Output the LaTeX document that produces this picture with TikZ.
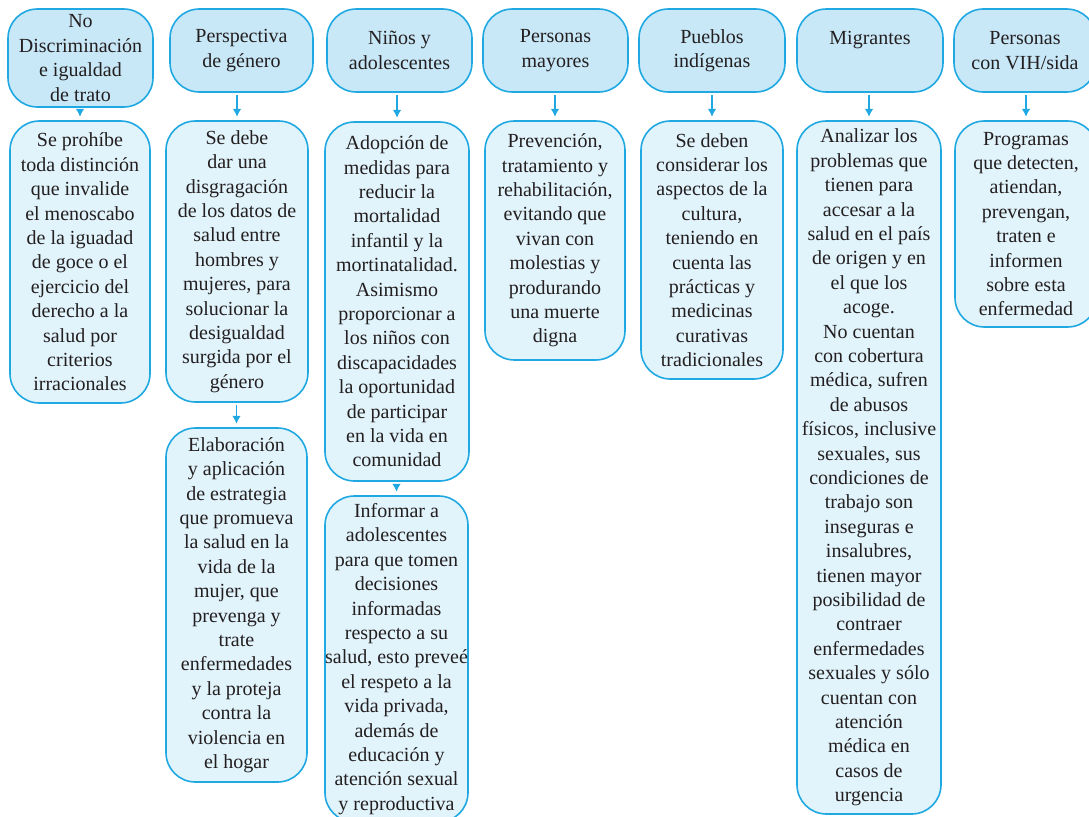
\documentclass[tikz,border=0pt]{standalone}
\usepackage{fontspec}
\setmainfont{Liberation Serif}
\usetikzlibrary{arrows.meta}
\definecolor{bordeazul}{HTML}{1FA8E1}
\definecolor{fondohead}{HTML}{C8E8F8}
\definecolor{fondobox}{HTML}{E1F3FB}
\definecolor{texto}{HTML}{231F20}
\begin{document}
\begin{tikzpicture}[x=0.75pt, y=-0.75pt,
    base/.style={draw=bordeazul, line width=1.2pt, rounded corners=22pt, align=center, text=texto, inner xsep=0pt,
        font=\fontsize{15}{18.3}\selectfont},
    head/.style={base, fill=fondohead},
    caja/.style={base, fill=fondobox},
    arr/.style={bordeazul, line width=1.2pt, -{Latex[length=6pt,width=6.5pt]}, shorten <=2pt, shorten >=2.5pt}]
    \useasboundingbox (0,0) rectangle (1089,817);
    \clip (0,0) rectangle (1089,817);
    \node[head, minimum width=108.75pt, minimum height=73.5pt] (h1) at (80.5,58) {No\\Discriminación\\e igualdad\\de trato};
    \node[head, minimum width=107.25pt, minimum height=62.25pt] (h2) at (241.5,50.5) {Perspectiva\\de género};
    \node[head, minimum width=108.75pt, minimum height=62.25pt] (h3) at (399.5,50.5) {Niños y\\adolescentes};
    \node[head, minimum width=108.75pt, minimum height=62.25pt] (h4) at (555.5,50.5) {Personas\\mayores};
    \node[head, minimum width=109.5pt, minimum height=62.25pt] (h5) at (712,50.5) {Pueblos\\indígenas};
    \node[head, minimum width=109.5pt, minimum height=62.25pt] (h6) at (870,50.5) {Migrantes\\~};
    \node[head, minimum width=106.5pt, minimum height=62.25pt] (h7) at (1025,50.5) {Personas\\con VIH/sida};

    \node[caja, minimum width=105pt, minimum height=211.5pt] (c1) at (80,262) {Se prohíbe\\toda distinción\\que invalide\\el menoscabo\\de la iguadad\\de goce o el\\ejercicio del\\derecho a la\\salud por\\criterios\\irracionales};
    \node[caja, minimum width=106.5pt, minimum height=210.75pt] (c2a) at (237,261.5) {Se debe\\dar una\\disgragación\\de los datos de\\salud entre\\hombres y\\mujeres, para\\solucionar la\\desigualdad\\surgida por el\\género};
    \node[caja, minimum width=105.75pt, minimum height=265.5pt] (c2b) at (236.5,605) {Elaboración\\y aplicación\\de estrategia\\que promueva\\la salud en la\\vida de la\\mujer, que\\prevenga y\\trate\\enfermedades\\y la proteja\\contra la\\violencia en\\el hogar};
    \node[caja, minimum width=108pt, minimum height=269.25pt] (c3a) at (397,301.5) {Adopción de\\medidas para\\reducir la\\mortalidad\\infantil y la\\mortinatalidad.\\Asimismo\\proporcionar a\\los niños con\\discapacidades\\la oportunidad\\de participar\\en la vida en\\comunidad};
    \node[caja, minimum width=107.25pt, minimum height=244.5pt] (c3b) at (396.5,659) {Informar a\\adolescentes\\para que tomen\\decisiones\\informadas\\respecto a su\\salud, esto preveé\\el respeto a la\\vida privada,\\además de\\educación y\\atención sexual\\y reproductiva};
    \node[caja, minimum width=105pt, minimum height=179.25pt] (c4) at (555,240.5) {Prevención,\\tratamiento y\\rehabilitación,\\evitando que\\vivan con\\molestias y\\produrando\\una muerte\\digna};
    \node[caja, minimum width=106.5pt, minimum height=193.5pt] (c5) at (712,250) {Se deben\\considerar los\\aspectos de la\\cultura,\\teniendo en\\cuenta las\\prácticas y\\medicinas\\curativas\\tradicionales};
    \node[caja, minimum width=108pt, minimum height=519.75pt] (c6) at (869,467.5) {Analizar los\\problemas que\\tienen para\\accesar a la\\salud en el país\\de origen y en\\el que los\\acoge.\\No cuentan\\con cobertura\\médica, sufren\\de abusos\\físicos, inclusive\\sexuales, sus\\condiciones de\\trabajo son\\inseguras e\\insalubres,\\tienen mayor\\posibilidad de\\contraer\\enfermedades\\sexuales y sólo\\cuentan con\\atención\\médica en\\casos de\\urgencia};
    \node[caja, minimum width=106.5pt, minimum height=154.5pt] (c7) at (1026,224) {Programas\\que detecten,\\atiendan,\\prevengan,\\traten e\\informen\\sobre esta\\enfermedad};

    \draw[arr] (h1.south -| c1) -- (c1.north);
    \draw[arr] (h2.south -| c2a) -- (c2a.north);
    \draw[arr] (h3.south -| c3a) -- (c3a.north);
    \draw[arr] (h4.south -| c4) -- (c4.north);
    \draw[arr] (h5.south -| c5) -- (c5.north);
    \draw[arr] (h6.south -| c6) -- (c6.north);
    \draw[arr] (h7.south -| c7) -- (c7.north);
    \draw[arr] (c2a.south -| c2b) -- (c2b.north);
    \draw[arr] (c3a.south -| c3b) -- (c3b.north);
\end{tikzpicture}
\end{document}
